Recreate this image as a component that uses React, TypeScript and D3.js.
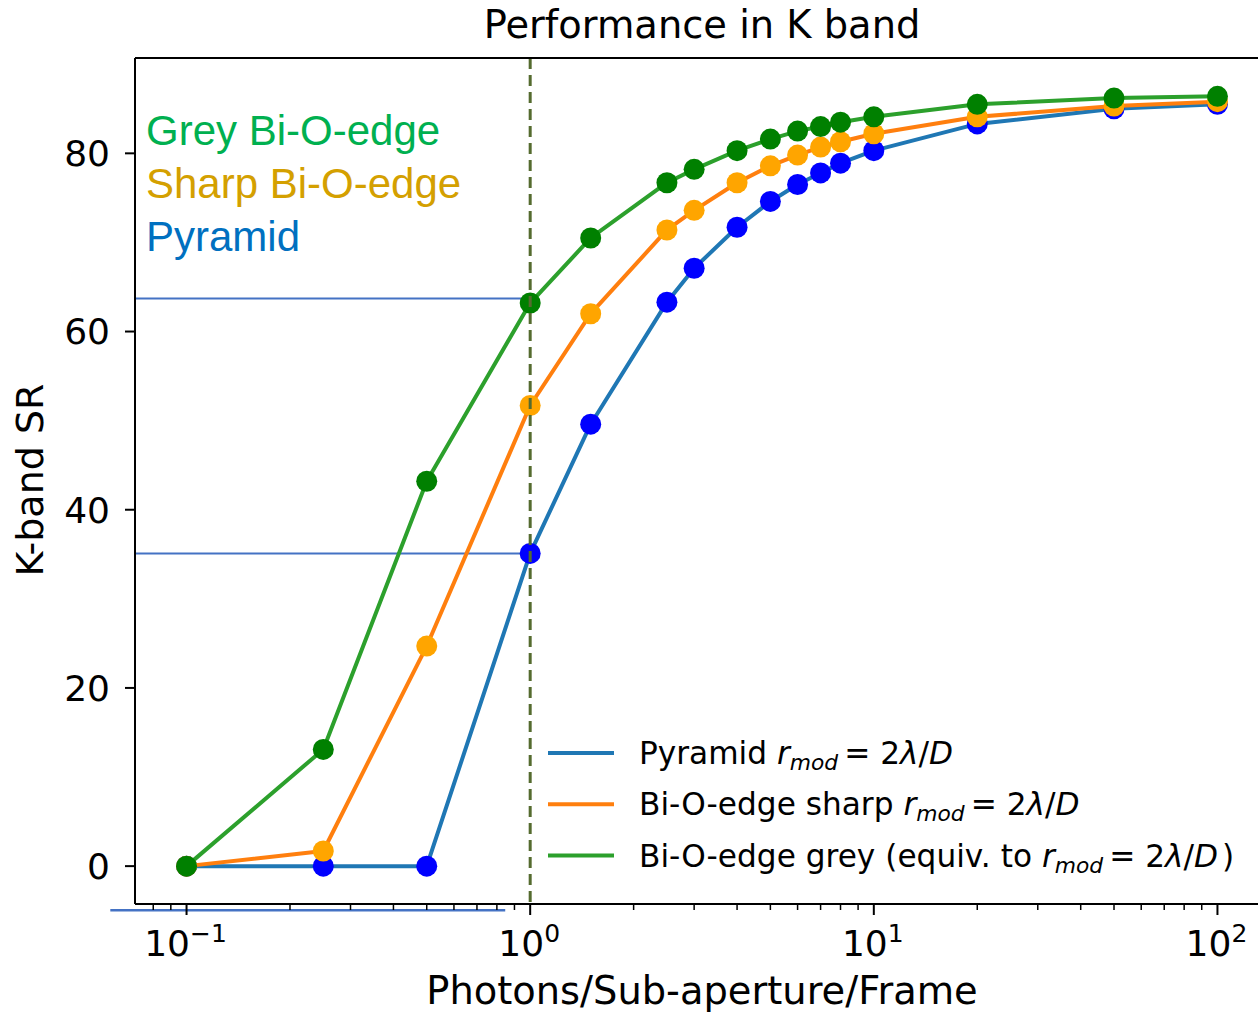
import React from "react";
import * as d3 from "d3";

const photons = [0.1, 0.25, 0.5, 1, 1.5, 2.5, 3, 4, 5, 6, 7, 8, 10, 20, 50, 100];
const pyramidSR = [0, 0, 0, 35.1, 49.6, 63.3, 67.1, 71.7, 74.6, 76.5, 77.8, 78.9, 80.3, 83.3, 85.0, 85.5];
const sharpSR = [0, 1.7, 24.7, 51.7, 62.0, 71.4, 73.6, 76.7, 78.6, 79.8, 80.7, 81.3, 82.2, 84.1, 85.3, 85.8];
const greySR = [0, 13.1, 43.2, 63.2, 70.5, 76.7, 78.2, 80.3, 81.6, 82.5, 83.0, 83.5, 84.1, 85.5, 86.2, 86.4];

const yTicks = [0, 20, 40, 60, 80];
const xTickExps = [-1, 0, 1, 2];
const refLevels = [63.7, 35.1];
const refX = 1;
const xDomain = [Math.pow(10, -1.15), Math.pow(10, 2.15)];
const yDomain = [-4.25, 90.7];

const W = 1258, H = 1013;
const M = { left: 135, right: 1269, top: 58, bottom: 904 };

const series = [
  { name: "pyramid", values: pyramidSR, line: "#1f77b4", marker: "#0000ff" },
  { name: "sharp", values: sharpSR, line: "#ff7f0e", marker: "#ffa500" },
  { name: "grey", values: greySR, line: "#2ca02c", marker: "#008000" },
];

const FONT = "'DejaVu Sans', sans-serif";

function MathRmod() {
  return (
    <>
      <tspan fontStyle="italic">r</tspan>
      <tspan fontStyle="italic" fontSize={21.8} dy={6}>mod</tspan>
      <tspan dy={-6} dx={6}>{"= 2"}</tspan>
      <tspan fontStyle="italic">λ</tspan>
      <tspan>/</tspan>
      <tspan fontStyle="italic">D</tspan>
    </>
  );
}

export default function App() {
  const x = d3.scaleLog().domain(xDomain).range([M.left, M.right]);
  const y = d3.scaleLinear().domain(yDomain).range([M.bottom, M.top]);
  const line = d3
    .line<[number, number]>()
    .x((d) => x(d[0]))
    .y((d) => y(d[1]));

  const minorTicks: number[] = [];
  for (let e = -2; e <= 2; e++) {
    for (let k = 2; k <= 9; k++) {
      const v = k * Math.pow(10, e);
      if (v >= xDomain[0] && v <= xDomain[1]) minorTicks.push(v);
    }
  }

  const legendRows = [
    { color: "#1f77b4", pre: "Pyramid ", post: "" },
    { color: "#ff7f0e", pre: "Bi-O-edge sharp ", post: "" },
    { color: "#2ca02c", pre: "Bi-O-edge grey (equiv. to ", post: ")" },
  ];

  const annots = [
    { text: "Grey Bi-O-edge", color: "#00b050" },
    { text: "Sharp Bi-O-edge", color: "#d4a000" },
    { text: "Pyramid", color: "#0070c0" },
  ];

  return (
    <svg
      width={W}
      height={H}
      style={{ position: "absolute", left: 0, top: 0, background: "#fff" }}
      fontFamily={FONT}
    >
      <defs>
        <clipPath id="plotclip">
          <rect x={M.left} y={M.top} width={M.right - M.left} height={M.bottom - M.top} />
        </clipPath>
      </defs>
      <rect x={0} y={0} width={W} height={H} fill="#fff" />

      {/* reference lines */}
      {refLevels.map((v, i) => (
        <line
          key={i}
          x1={M.left}
          x2={x(refX)}
          y1={y(v)}
          y2={y(v)}
          stroke="#4472c4"
          strokeWidth={2}
        />
      ))}
      <line x1={x(0.06)} x2={x(0.846)} y1={y(-4.95)} y2={y(-4.95)} stroke="#4472c4" strokeWidth={2.5} />

      {/* series */}
      <g clipPath="url(#plotclip)">
        {series.map((s) => {
          const pts = photons.map((p, i) => [p, s.values[i]] as [number, number]);
          return (
            <g key={s.name}>
              <path d={line(pts) || ""} fill="none" stroke={s.line} strokeWidth={4} strokeLinejoin="round" />
              {pts.map((p, i) => (
                <circle key={i} cx={x(p[0])} cy={y(p[1])} r={10.5} fill={s.marker} />
              ))}
            </g>
          );
        })}
      </g>

      {/* dashed vertical */}
      <line
        x1={x(refX)}
        x2={x(refX)}
        y1={M.top}
        y2={M.bottom}
        stroke="#556b2f"
        strokeWidth={3}
        strokeDasharray="11,6"
      />

      {/* spines */}
      <line x1={M.left} x2={M.left} y1={M.top} y2={M.bottom} stroke="#000" strokeWidth={2} />
      <line x1={M.left} x2={M.right} y1={M.bottom} y2={M.bottom} stroke="#000" strokeWidth={2} />
      <line x1={M.left} x2={M.right} y1={M.top} y2={M.top} stroke="#000" strokeWidth={2} />
      <line x1={M.right} x2={M.right} y1={M.top} y2={M.bottom} stroke="#000" strokeWidth={2} />

      {/* y ticks */}
      {yTicks.map((t) => (
        <g key={t}>
          <line x1={M.left - 10} x2={M.left} y1={y(t)} y2={y(t)} stroke="#000" strokeWidth={2} />
          <text x={110} y={y(t)} dy="0.36em" textAnchor="end" fontSize={36} fill="#000">
            {t}
          </text>
        </g>
      ))}

      {/* x ticks */}
      {minorTicks.map((t, i) => (
        <line key={i} x1={x(t)} x2={x(t)} y1={M.bottom} y2={M.bottom + 6} stroke="#000" strokeWidth={1.5} />
      ))}
      {xTickExps.map((e) => {
        const v = Math.pow(10, e);
        return (
          <g key={e}>
            <line x1={x(v)} x2={x(v)} y1={M.bottom} y2={M.bottom + 11} stroke="#000" strokeWidth={2} />
            <text x={x(v) - 1} y={956} textAnchor="middle" fontSize={36} fill="#000">
              10
              <tspan fontSize={25} dy={-14}>{e < 0 ? "\u2212" + Math.abs(e) : String(e)}</tspan>
            </text>
          </g>
        );
      })}

      {/* labels */}
      <text x={(M.left + M.right) / 2} y={38} textAnchor="middle" fontSize={38.4} fill="#000">
        Performance in K band
      </text>
      <text x={702} y={1004} textAnchor="middle" fontSize={38.4} fill="#000">
        Photons/Sub-aperture/Frame
      </text>
      <text
        transform={`translate(43,480) rotate(-90)`}
        textAnchor="middle"
        fontSize={38}
        fill="#000"
      >
        K-band SR
      </text>

      {/* annotations */}
      {annots.map((a, i) => (
        <text
          key={i}
          x={146}
          y={145 + i * 53}
          fontFamily="'Liberation Sans', Arial, sans-serif"
          fontSize={42}
          fill={a.color}
        >
          {a.text}
        </text>
      ))}

      {/* legend */}
      {legendRows.map((r, i) => {
        const ly = 753 + i * 51.3;
        return (
          <g key={i}>
            <line x1={548} x2={614} y1={ly} y2={ly} stroke={r.color} strokeWidth={4} />
            <text x={639} y={ly + 11} fontSize={31.2} fill="#000">
              <tspan>{r.pre}</tspan>
              <MathRmod />
              {r.post ? <tspan dx={4}>{r.post}</tspan> : null}
            </text>
          </g>
        );
      })}
    </svg>
  );
}
